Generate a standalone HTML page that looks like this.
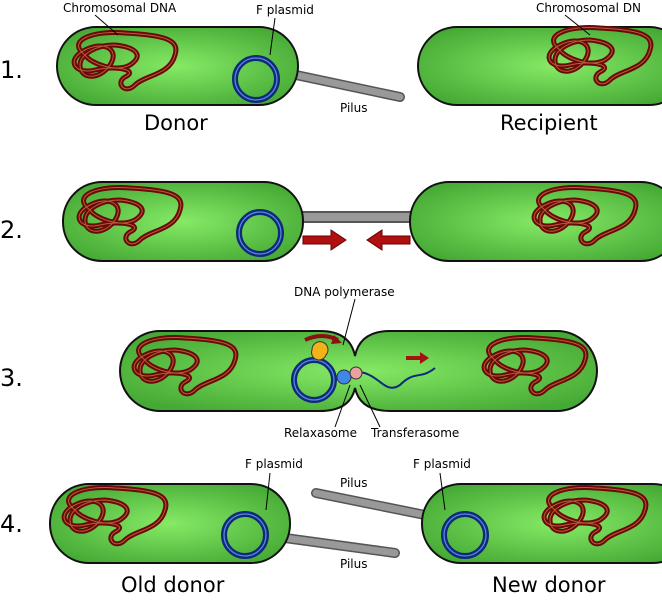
<!DOCTYPE html>
<html><head><meta charset="utf-8"><style>
html,body{margin:0;padding:0;background:#fff;}
svg{display:block;font-family:"DejaVu Sans","Liberation Sans",sans-serif;}
</style></head><body>
<svg width="662" height="600" viewBox="0 0 662 600">
<defs>
<radialGradient id="g" cx="50%" cy="50%" r="60%"><stop offset="0" stop-color="#86ea66"/><stop offset="1" stop-color="#45a935"/></radialGradient>
<g id="dna">
<path d="M0,0 C-20,-15 10,-25 40,-22 C80,-20 95,-15 90,0 C85,20 60,20 50,30 C40,40 30,28 40,22 C55,15 30,10 10,15 C-10,20 -20,5 0,-5 C20,-15 35,-5 25,10 C15,25 -5,25 -5,10 C-5,0 10,-10 30,-10 C50,-8 60,0 45,10 C30,18 5,8 0,0Z" fill="none" stroke="#6e0808" stroke-width="5"/>
<path d="M0,0 C-20,-15 10,-25 40,-22 C80,-20 95,-15 90,0 C85,20 60,20 50,30 C40,40 30,28 40,22 C55,15 30,10 10,15 C-10,20 -20,5 0,-5 C20,-15 35,-5 25,10 C15,25 -5,25 -5,10 C-5,0 10,-10 30,-10 C50,-8 60,0 45,10 C30,18 5,8 0,0Z" fill="none" stroke="#b0603a" stroke-width="1"/>
</g>
<g id="plas"><circle r="21" fill="none" stroke="#0e2a7a" stroke-width="6"/><circle r="21" fill="none" stroke="#5a86e0" stroke-width="1.3"/></g>
</defs>
<g stroke="#111" stroke-width="2" fill="url(#g)">
<line x1="296" y1="75" x2="400" y2="97" stroke="#555" stroke-width="10" stroke-linecap="round"/>
<line x1="296" y1="75" x2="400" y2="97" stroke="#999" stroke-width="7" stroke-linecap="round"/>
<rect x="57" y="27" width="241" height="78" rx="39"/>
<rect x="418" y="27" width="270" height="78" rx="39"/>
<rect x="290" y="212" width="130" height="10" fill="#999" stroke="#555"/>
<rect x="63" y="182" width="240" height="79" rx="39"/>
<rect x="410" y="182" width="270" height="79" rx="39"/>
<path d="M160,331 H320 Q350,331 355,356 Q360,331 390,331 H557 A40,40 0 0 1 557,411 H390 Q360,411 355,388 Q350,411 320,411 H160 A40,40 0 0 1 160,331Z"/>
<line x1="316" y1="493" x2="425" y2="515" stroke="#555" stroke-width="10" stroke-linecap="round"/>
<line x1="316" y1="493" x2="425" y2="515" stroke="#999" stroke-width="7" stroke-linecap="round"/>
<line x1="285" y1="538" x2="395" y2="553" stroke="#555" stroke-width="10" stroke-linecap="round"/>
<line x1="285" y1="538" x2="395" y2="553" stroke="#999" stroke-width="7" stroke-linecap="round"/>
<rect x="50" y="484" width="240" height="79" rx="39"/>
<rect x="422" y="484" width="270" height="79" rx="39"/>
</g>
<use href="#dna" x="85" y="55"/><use href="#dna" x="560" y="50"/>
<use href="#dna" x="90" y="210"/><use href="#dna" x="545" y="210"/>
<use href="#dna" x="145" y="360"/><use href="#dna" x="495" y="360"/>
<use href="#dna" x="75" y="510"/><use href="#dna" x="555" y="510"/>
<use href="#plas" x="256" y="79"/><use href="#plas" x="260" y="233"/>
<use href="#plas" x="245" y="535"/><use href="#plas" x="465" y="535"/>
<circle cx="314" cy="380" r="20" fill="none" stroke="#0e2a7a" stroke-width="6"/><circle cx="314" cy="380" r="20" fill="none" stroke="#5a86e0" stroke-width="1.3"/>
<path d="M360,372 C380,375 385,395 400,385 C415,370 420,380 435,368" fill="none" stroke="#0e2a7a" stroke-width="2"/>
<path d="M312,350 a8,8 0 1 1 14,5 a6,6 0 0 1 -14,-5Z" fill="#f2b21a" stroke="#333"/>
<circle cx="344" cy="377" r="7" fill="#3e87e6" stroke="#333"/>
<circle cx="356" cy="373" r="6" fill="#e8a3a0" stroke="#333"/>
<path d="M305,340 Q322,332 338,340" fill="none" stroke="#8b1010" stroke-width="4"/><path d="M334,335 L342,343 L331,344Z" fill="#8b1010"/>
<path d="M406,356 h14 v-4 l9,6 l-9,6 v-4 h-14Z" fill="#a51010"/>
<path d="M303,236 h28 v-6 l15,10 l-15,10 v-6 h-28Z" fill="#b01010" stroke="#600"/>
<path d="M410,236 h-28 v-6 l-15,10 l15,10 v-6 h28Z" fill="#b01010" stroke="#600"/>
<g stroke="#000" stroke-width="1" fill="none">
<line x1="95" y1="15" x2="118" y2="35"/><line x1="275" y1="18" x2="270" y2="55"/><line x1="565" y1="15" x2="590" y2="35"/>
<line x1="355" y1="299" x2="343" y2="345"/><line x1="350" y1="385" x2="335" y2="427"/><line x1="360" y1="385" x2="380" y2="427"/>
<line x1="270" y1="473" x2="266" y2="510"/><line x1="440" y1="473" x2="445" y2="510"/>
</g>
<g font-size="12" fill="#000">
<text x="63" y="12">Chromosomal DNA</text>
<text x="256" y="14">F plasmid</text>
<text x="536" y="12">Chromosomal DN</text>
<text x="340" y="112">Pilus</text>
<text x="294" y="296">DNA polymerase</text>
<text x="284" y="437">Relaxasome</text>
<text x="371" y="437">Transferasome</text>
<text x="245" y="468">F plasmid</text><text x="413" y="468">F plasmid</text>
<text x="340" y="487">Pilus</text><text x="340" y="568">Pilus</text>
</g>
<g font-size="21" fill="#000">
<text x="144" y="130">Donor</text>
<text x="500" y="130">Recipient</text>
<text x="121" y="592">Old donor</text>
<text x="492" y="592">New donor</text>
</g>
<g font-size="24" fill="#000">
<text x="0" y="78">1.</text>
<text x="0" y="238">2.</text>
<text x="0" y="386">3.</text>
<text x="0" y="532">4.</text>
</g>
</svg>
</body></html>
